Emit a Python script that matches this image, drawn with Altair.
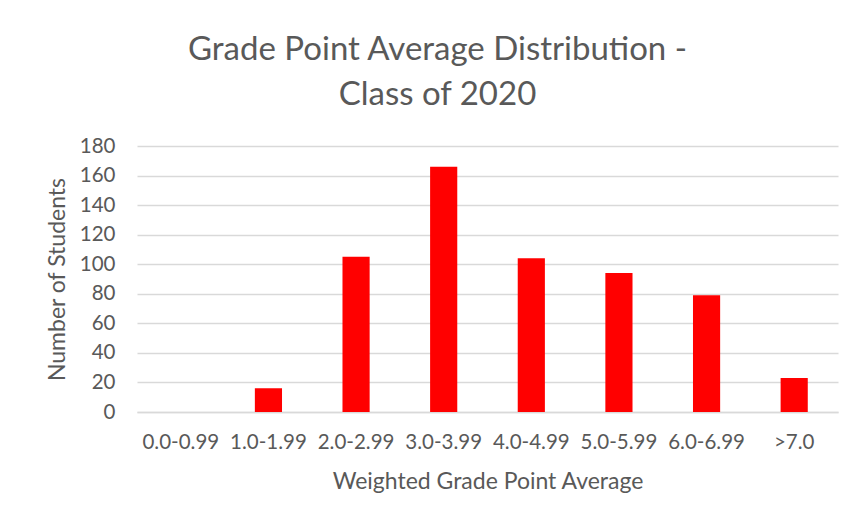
import altair as alt
import pandas as pd

categories = ["0.0-0.99", "1.0-1.99", "2.0-2.99", "3.0-3.99", "4.0-4.99", "5.0-5.99", "6.0-6.99", ">7.0"]
students = [0, 16, 105, 166, 104, 94, 79, 23]

df = pd.DataFrame({"gpa": categories, "n": students})

font = "Lato"
grey = "#595959"

chart = alt.Chart(df).mark_bar(color="#FF0000").encode(
    x=alt.X("gpa:N", sort=categories, title="Weighted Grade Point Average",
            scale=alt.Scale(paddingInner=0.69, paddingOuter=0.345),
            axis=alt.Axis(labelAngle=0, labelFontSize=20.5, labelColor=grey, labelFont=font,
                          titleFontSize=23, titleColor=grey, titleFont=font, titleFontWeight="normal",
                          ticks=False, domainColor="#d9d9d9", domainWidth=1.5,
                          labelPadding=20, titlePadding=18)),
    y=alt.Y("n:Q", title="Number of Students",
            scale=alt.Scale(domain=[0, 180]),
            axis=alt.Axis(values=list(range(0, 181, 20)), labelFontSize=20.5, labelColor=grey,
                          labelFont=font, titleFontSize=23, titleColor=grey, titleFont=font,
                          titleFontWeight="normal", ticks=False, domain=False,
                          gridColor="#d9d9d9", gridWidth=1.5, labelPadding=22, titlePadding=10)),
).properties(
    width=701, height=266,
    title=alt.TitleParams(["Grade Point Average Distribution -", "Class of 2020"],
                          fontSize=33, font=font, color=grey, fontWeight="normal",
                          anchor="middle", dx=-50, lineHeight=45, offset=24),
    autosize=alt.AutoSizeParams(type="none"),
    padding={"left": 129, "top": 138, "right": 11, "bottom": 104},
).configure(background="white").configure_view(stroke=None)

chart.save("out.html", embed_options={"renderer": "svg", "actions": False})
